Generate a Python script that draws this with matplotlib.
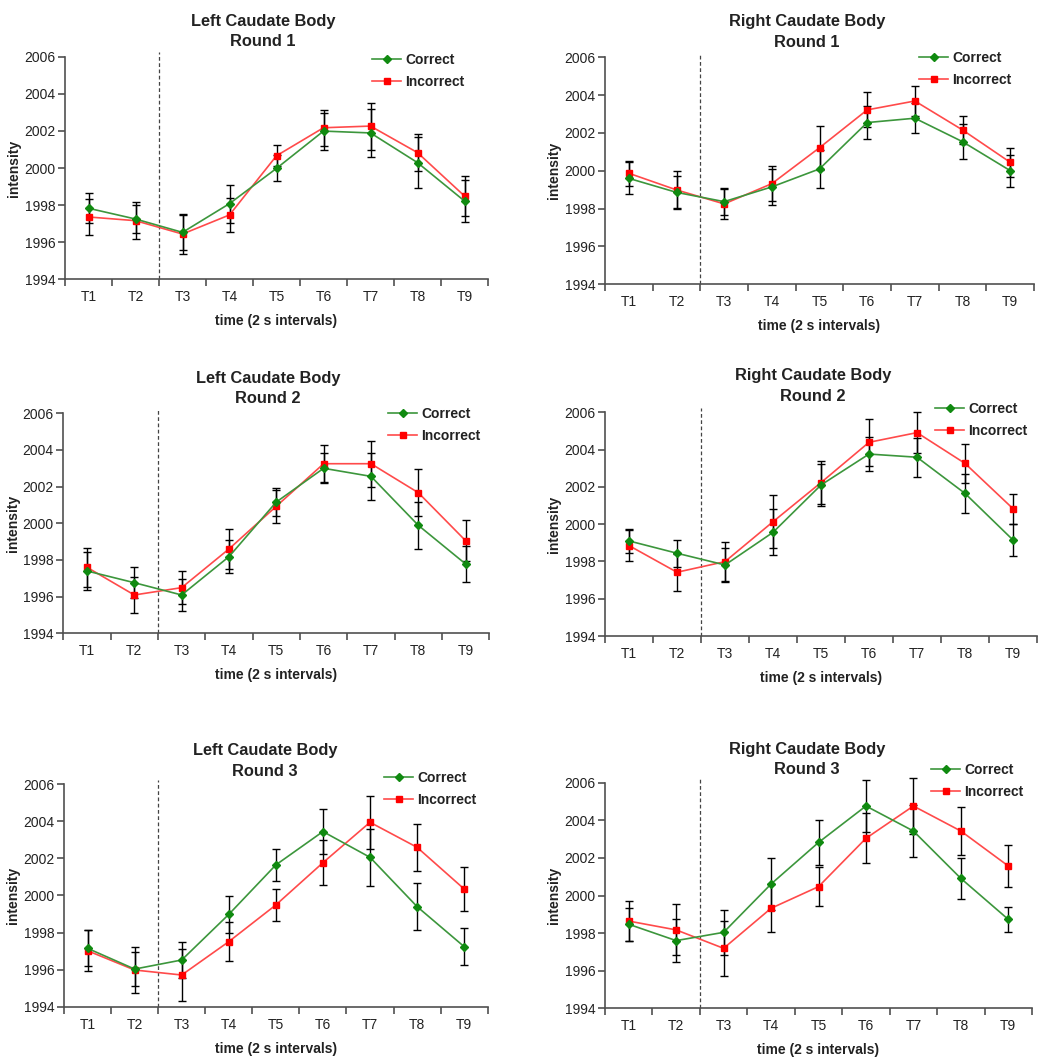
import matplotlib
matplotlib.use("Agg")
import matplotlib.pyplot as plt
from matplotlib.ticker import FixedLocator, NullFormatter, FixedFormatter

plt.rcParams['font.family'] = ['Liberation Sans', 'DejaVu Sans']

time_labels = ["T1", "T2", "T3", "T4", "T5", "T6", "T7", "T8", "T9"]
series_names = ["Correct", "Incorrect"]
y_ticks = [1994, 1996, 1998, 2000, 2002, 2004, 2006]

titles = ["Left Caudate Body\nRound 1", "Right Caudate Body\nRound 1",
          "Left Caudate Body\nRound 2", "Right Caudate Body\nRound 2",
          "Left Caudate Body\nRound 3", "Right Caudate Body\nRound 3"]

# Left caudate, round 1
left_r1_correct = [1997.83, 1997.25, 1996.53, 1998.08, 1999.98, 2001.99, 2001.89, 2000.29, 1998.22]
left_r1_correct_err = [0.81, 0.75, 0.96, 1.03, 0.70, 1.00, 1.30, 1.37, 1.14]
left_r1_incorrect = [1997.36, 1997.16, 1996.44, 1997.47, 2000.66, 2002.17, 2002.26, 2000.83, 1998.49]
left_r1_incorrect_err = [0.97, 1.00, 1.06, 0.90, 0.56, 0.97, 1.27, 1.00, 1.10]

# Right caudate, round 1
right_r1_correct = [1999.60, 1998.86, 1998.37, 1999.15, 2000.10, 2002.55, 2002.78, 2001.54, 2000.01]
right_r1_correct_err = [0.85, 0.85, 0.70, 0.95, 1.00, 0.87, 0.80, 0.93, 0.84]
right_r1_incorrect = [1999.87, 1998.99, 1998.25, 1999.32, 2001.22, 2003.22, 2003.69, 2002.16, 2000.45]
right_r1_incorrect_err = [0.65, 1.00, 0.80, 0.93, 1.16, 0.93, 0.80, 0.76, 0.77]

# Left caudate, round 2
left_r2_correct = [1997.40, 1996.76, 1996.09, 1998.18, 2001.16, 2003.00, 2002.56, 1999.89, 1997.78]
left_r2_correct_err = [1.05, 0.86, 0.88, 0.90, 0.78, 0.82, 1.27, 1.27, 0.97]
left_r2_incorrect = [1997.60, 1996.09, 1996.49, 1998.60, 2000.93, 2003.25, 2003.25, 2001.67, 1999.05]
left_r2_incorrect_err = [1.05, 1.00, 0.90, 1.10, 0.90, 1.00, 1.25, 1.28, 1.12]

# Right caudate, round 2
right_r2_correct = [1999.10, 1998.44, 1997.81, 1999.56, 2002.10, 2003.76, 2003.59, 2001.65, 1999.15]
right_r2_correct_err = [0.65, 0.72, 0.90, 1.23, 1.15, 0.90, 1.05, 1.03, 0.86]
right_r2_incorrect = [1998.85, 1997.42, 1997.99, 2000.13, 2002.23, 2004.39, 2004.91, 2003.26, 2000.83]
right_r2_incorrect_err = [0.83, 0.98, 1.05, 1.41, 1.16, 1.25, 1.10, 1.05, 0.80]

# Left caudate, round 3
left_r3_correct = [1997.15, 1996.03, 1996.52, 1998.98, 2001.65, 2003.45, 2002.06, 1999.40, 1997.24]
left_r3_correct_err = [0.97, 0.90, 0.99, 0.98, 0.85, 1.20, 1.53, 1.27, 1.00]
left_r3_incorrect = [1997.02, 1995.98, 1995.71, 1997.51, 1999.49, 2001.77, 2003.95, 2002.60, 2000.35]
left_r3_incorrect_err = [1.10, 1.23, 1.40, 1.05, 0.87, 1.20, 1.42, 1.28, 1.21]

# Right caudate, round 3
right_r3_correct = [1998.47, 1997.60, 1998.04, 2000.61, 2002.82, 2004.76, 2003.43, 2000.91, 1998.73]
right_r3_correct_err = [0.89, 1.15, 1.20, 1.36, 1.22, 1.36, 1.40, 1.11, 0.65]
right_r3_incorrect = [1998.64, 1998.17, 1997.19, 1999.32, 2000.47, 2003.04, 2004.76, 2003.43, 2001.57]
right_r3_incorrect_err = [1.06, 1.36, 1.45, 1.28, 1.04, 1.33, 1.50, 1.27, 1.10]

panels = [
    (left_r1_correct, left_r1_correct_err, left_r1_incorrect, left_r1_incorrect_err),
    (right_r1_correct, right_r1_correct_err, right_r1_incorrect, right_r1_incorrect_err),
    (left_r2_correct, left_r2_correct_err, left_r2_incorrect, left_r2_incorrect_err),
    (right_r2_correct, right_r2_correct_err, right_r2_incorrect, right_r2_incorrect_err),
    (left_r3_correct, left_r3_correct_err, left_r3_incorrect, left_r3_incorrect_err),
    (right_r3_correct, right_r3_correct_err, right_r3_incorrect, right_r3_incorrect_err),
]

W, H = 1050, 1063
fig = plt.figure(figsize=(W / 100, H / 100), dpi=100)

# axes boxes in pixels: left, right, top, bottom
boxes = [(65, 488, 56.7, 279.3), (605, 1034, 57.3, 284.3),
         (63.3, 489.3, 413.3, 633.3), (605, 1037, 412.3, 636),
         (64, 487.7, 784.3, 1006.7), (605, 1032, 782.7, 1008.3)]
title_pos = [(263, 31.5), (807, 32), (268, 388.5), (813, 386), (265, 761), (807, 759.5)]
legend_pos = [(372, 53), (919, 51), (388, 407), (935, 402), (384, 771), (931, 763)]

green_line = '#3c963c'
green_mk = '#108a10'
red_line = '#ff4a4a'
red_mk = '#ff0000'
axis_col = '#505050'
text_col = '#222222'

x = list(range(1, len(time_labels) + 1))

for i, (box, data) in enumerate(zip(boxes, panels)):
    l, r, t, b = box
    ax = fig.add_axes([l / W, 1 - b / H, (r - l) / W, (b - t) / H])
    c, ce, inc, ie = data
    ax.errorbar(x, c, yerr=ce, fmt='none', ecolor='black', elinewidth=1.0,
                capsize=2.6, capthick=1.0, zorder=2, clip_on=False)
    ax.errorbar(x, inc, yerr=ie, fmt='none', ecolor='black', elinewidth=1.0,
                capsize=2.6, capthick=1.0, zorder=2, clip_on=False)
    ax.plot(x, c, color=green_line, lw=1.2, marker='D', markersize=3.6,
            markerfacecolor=green_mk, markeredgecolor=green_mk, zorder=4,
            label=series_names[0], clip_on=False)
    ax.plot(x, inc, color=red_line, lw=1.2, marker='s', markersize=5,
            markerfacecolor=red_mk, markeredgecolor=red_mk, zorder=3,
            label=series_names[1], clip_on=False)
    ax.set_xlim(0.5, len(time_labels) + 0.5)
    ax.set_ylim(y_ticks[0], y_ticks[-1])
    ax.axvline(2.5, ymin=0, ymax=1.02, color='#444444', lw=0.9,
               ls=(0, (3, 2)), clip_on=False, zorder=1)
    for s in ['top', 'right']:
        ax.spines[s].set_visible(False)
    for s in ['left', 'bottom']:
        ax.spines[s].set_color(axis_col)
        ax.spines[s].set_linewidth(1.2)
    ax.set_yticks(y_ticks)
    ax.tick_params(axis='y', direction='out', length=5, width=1.2,
                   color=axis_col, labelsize=10, labelcolor=text_col, pad=2)
    ax.xaxis.set_major_locator(FixedLocator([k + 0.5 for k in range(len(time_labels) + 1)]))
    ax.xaxis.set_major_formatter(NullFormatter())
    ax.xaxis.set_minor_locator(FixedLocator(x))
    ax.xaxis.set_minor_formatter(FixedFormatter(time_labels))
    ax.tick_params(axis='x', which='major', direction='out', length=5,
                   width=1.2, color=axis_col)
    ax.tick_params(axis='x', which='minor', length=0, labelsize=10,
                   labelcolor=text_col, pad=8)
    ax.set_xlabel("time (2 s intervals)", fontsize=10, fontweight='bold',
                  color=text_col, labelpad=7)
    ax.set_ylabel("intensity", fontsize=10, fontweight='bold',
                  color=text_col, labelpad=2)
    tx, ty = title_pos[i]
    fig.text(tx / W, 1 - ty / H, titles[i], ha='center', va='center',
             fontsize=11.8, fontweight='bold', color=text_col, linespacing=1.45)
    lx, ly = legend_pos[i]
    ax.legend(loc='upper left', bbox_to_anchor=(lx / W, 1 - ly / H),
              bbox_transform=fig.transFigure, frameon=False, borderpad=0,
              handlelength=2.1, handletextpad=0.3, labelspacing=0.55,
              prop={'weight': 'bold', 'size': 10}, labelcolor=text_col,
              borderaxespad=0)

fig.savefig("out.png", dpi=100)
